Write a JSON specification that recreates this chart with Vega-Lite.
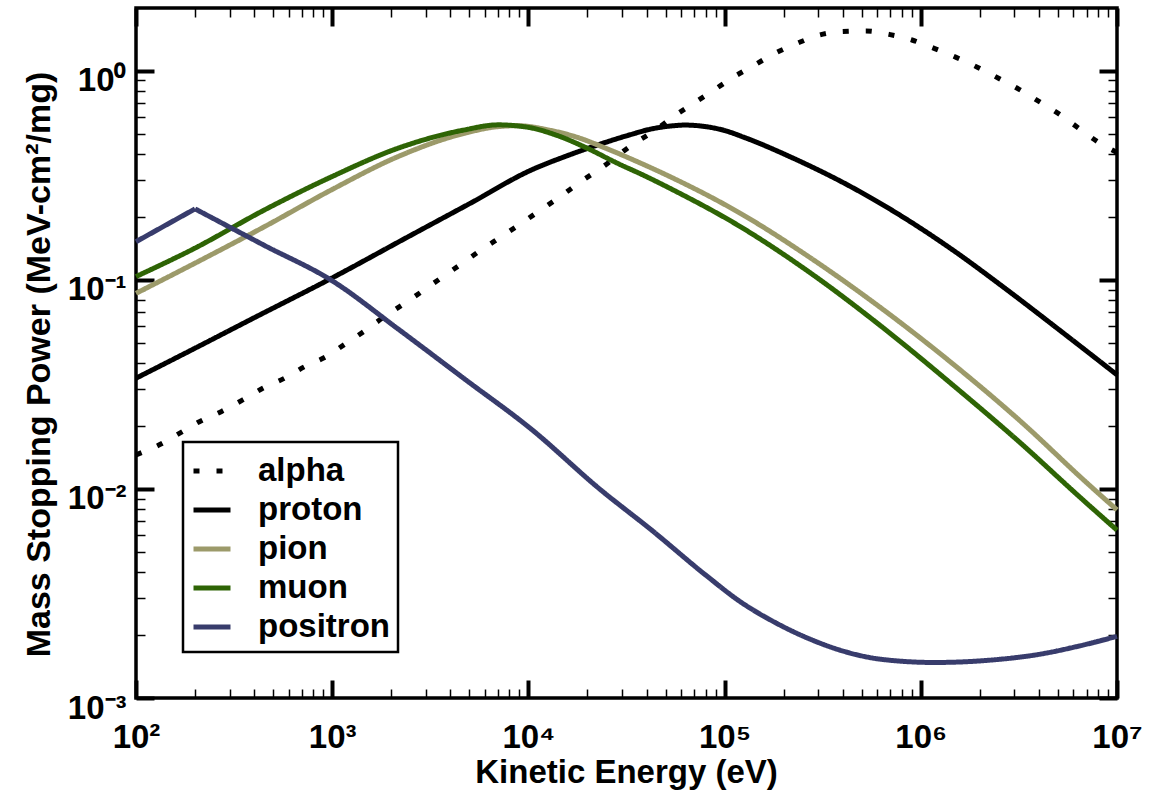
{
  "$schema": "https://vega.github.io/schema/vega-lite/v6.json",
  "width": 981,
  "height": 690,
  "autosize": {"type": "none"},
  "padding": {"left": 136, "top": 8, "right": 36, "bottom": 93},
  "background": "white",
  "data": {"values": [
    {"particle": "alpha", "seg": "a", "E": 100, "S": 0.01456},
    {"particle": "alpha", "seg": "a", "E": 131.5, "S": 0.01626},
    {"particle": "alpha", "seg": "a", "E": 166.3, "S": 0.01845},
    {"particle": "alpha", "seg": "a", "E": 210.4, "S": 0.02099},
    {"particle": "alpha", "seg": "a", "E": 271.6, "S": 0.02344},
    {"particle": "alpha", "seg": "a", "E": 349.9, "S": 0.02667},
    {"particle": "alpha", "seg": "a", "E": 442.6, "S": 0.03034},
    {"particle": "alpha", "seg": "a", "E": 571.5, "S": 0.03388},
    {"particle": "alpha", "seg": "a", "E": 722.8, "S": 0.03846},
    {"particle": "alpha", "seg": "a", "E": 931.1, "S": 0.04295},
    {"particle": "alpha", "seg": "a", "E": 1178, "S": 0.04977},
    {"particle": "alpha", "seg": "a", "E": 1489, "S": 0.05768},
    {"particle": "alpha", "seg": "a", "E": 1849, "S": 0.06683},
    {"particle": "alpha", "seg": "a", "E": 2339, "S": 0.07727},
    {"particle": "alpha", "seg": "a", "E": 2938, "S": 0.08954},
    {"particle": "alpha", "seg": "a", "E": 3673, "S": 0.1038},
    {"particle": "alpha", "seg": "a", "E": 4603, "S": 0.1202},
    {"particle": "alpha", "seg": "a", "E": 5754, "S": 0.1393},
    {"particle": "alpha", "seg": "a", "E": 7278, "S": 0.1611},
    {"particle": "alpha", "seg": "a", "E": 9204, "S": 0.1866},
    {"particle": "alpha", "seg": "a", "E": 11560, "S": 0.2163},
    {"particle": "alpha", "seg": "a", "E": 14550, "S": 0.2506},
    {"particle": "alpha", "seg": "a", "E": 18280, "S": 0.2931},
    {"particle": "alpha", "seg": "a", "E": 23120, "S": 0.3396},
    {"particle": "alpha", "seg": "a", "E": 34750, "S": 0.4508},
    {"particle": "alpha", "seg": "a", "E": 44570, "S": 0.5224},
    {"particle": "alpha", "seg": "a", "E": 55460, "S": 0.6095},
    {"particle": "alpha", "seg": "a", "E": 70310, "S": 0.7047},
    {"particle": "alpha", "seg": "a", "E": 88310, "S": 0.811},
    {"particle": "alpha", "seg": "a", "E": 110900, "S": 0.9333},
    {"particle": "alpha", "seg": "a", "E": 141300, "S": 1.064},
    {"particle": "alpha", "seg": "a", "E": 181100, "S": 1.216},
    {"particle": "alpha", "seg": "a", "E": 233900, "S": 1.355},
    {"particle": "alpha", "seg": "a", "E": 302700, "S": 1.483},
    {"particle": "alpha", "seg": "a", "E": 398100, "S": 1.542},
    {"particle": "alpha", "seg": "a", "E": 526000, "S": 1.552},
    {"particle": "alpha", "seg": "a", "E": 688700, "S": 1.496},
    {"particle": "alpha", "seg": "a", "E": 901600, "S": 1.406},
    {"particle": "alpha", "seg": "a", "E": 1169000, "S": 1.282},
    {"particle": "alpha", "seg": "a", "E": 1514000, "S": 1.161},
    {"particle": "alpha", "seg": "a", "E": 1941000, "S": 1.042},
    {"particle": "alpha", "seg": "a", "E": 2489000, "S": 0.9226},
    {"particle": "alpha", "seg": "a", "E": 3170000, "S": 0.8166},
    {"particle": "alpha", "seg": "a", "E": 4018000, "S": 0.7129},
    {"particle": "alpha", "seg": "a", "E": 5082000, "S": 0.6209},
    {"particle": "alpha", "seg": "a", "E": 6383000, "S": 0.5321},
    {"particle": "alpha", "seg": "a", "E": 8035000, "S": 0.456},
    {"particle": "alpha", "seg": "a", "E": 10000000, "S": 0.4074},

    {"particle": "proton", "seg": "a", "E": 100, "S": 0.03388},
    {"particle": "proton", "seg": "a", "E": 199.5, "S": 0.0471},
    {"particle": "proton", "seg": "a", "E": 398.1, "S": 0.06577},
    {"particle": "proton", "seg": "a", "E": 1000, "S": 0.1023},
    {"particle": "proton", "seg": "a", "E": 2432, "S": 0.1607},
    {"particle": "proton", "seg": "a", "E": 5012, "S": 0.2317},
    {"particle": "proton", "seg": "a", "E": 10350, "S": 0.3357},
    {"particle": "proton", "seg": "a", "E": 15850, "S": 0.3936},
    {"particle": "proton", "seg": "a", "E": 22910, "S": 0.4446},
    {"particle": "proton", "seg": "a", "E": 33110, "S": 0.4955},
    {"particle": "proton", "seg": "a", "E": 41690, "S": 0.526},
    {"particle": "proton", "seg": "a", "E": 52480, "S": 0.5445},
    {"particle": "proton", "seg": "a", "E": 63100, "S": 0.5508},
    {"particle": "proton", "seg": "a", "E": 79430, "S": 0.542},
    {"particle": "proton", "seg": "a", "E": 100000, "S": 0.5188},
    {"particle": "proton", "seg": "a", "E": 125900, "S": 0.4808},
    {"particle": "proton", "seg": "a", "E": 224400, "S": 0.3819},
    {"particle": "proton", "seg": "a", "E": 418800, "S": 0.2864},
    {"particle": "proton", "seg": "a", "E": 779800, "S": 0.2046},
    {"particle": "proton", "seg": "a", "E": 1452000, "S": 0.1393},
    {"particle": "proton", "seg": "a", "E": 2704000, "S": 0.09078},
    {"particle": "proton", "seg": "a", "E": 5047000, "S": 0.05794},
    {"particle": "proton", "seg": "a", "E": 10000000, "S": 0.03516},

    {"particle": "pion", "seg": "a", "E": 100, "S": 0.0863},
    {"particle": "pion", "seg": "a", "E": 199.5, "S": 0.1202},
    {"particle": "pion", "seg": "a", "E": 451.9, "S": 0.1799},
    {"particle": "pion", "seg": "a", "E": 1000, "S": 0.271},
    {"particle": "pion", "seg": "a", "E": 2163, "S": 0.389},
    {"particle": "pion", "seg": "a", "E": 4732, "S": 0.5035},
    {"particle": "pion", "seg": "a", "E": 7079, "S": 0.542},
    {"particle": "pion", "seg": "a", "E": 8913, "S": 0.547},
    {"particle": "pion", "seg": "a", "E": 12590, "S": 0.5224},
    {"particle": "pion", "seg": "a", "E": 17780, "S": 0.4808},
    {"particle": "pion", "seg": "a", "E": 25120, "S": 0.4246},
    {"particle": "pion", "seg": "a", "E": 35480, "S": 0.3698},
    {"particle": "pion", "seg": "a", "E": 52480, "S": 0.3126},
    {"particle": "pion", "seg": "a", "E": 120200, "S": 0.2084},
    {"particle": "pion", "seg": "a", "E": 275400, "S": 0.1271},
    {"particle": "pion", "seg": "a", "E": 631000, "S": 0.07311},
    {"particle": "pion", "seg": "a", "E": 1445000, "S": 0.0399},
    {"particle": "pion", "seg": "a", "E": 3311000, "S": 0.02061},
    {"particle": "pion", "seg": "a", "E": 6761000, "S": 0.01104},
    {"particle": "pion", "seg": "a", "E": 10000000, "S": 0.007943},

    {"particle": "muon", "seg": "a", "E": 100, "S": 0.1038},
    {"particle": "muon", "seg": "a", "E": 199.5, "S": 0.1419},
    {"particle": "muon", "seg": "a", "E": 451.9, "S": 0.2163},
    {"particle": "muon", "seg": "a", "E": 1000, "S": 0.3126},
    {"particle": "muon", "seg": "a", "E": 2163, "S": 0.4266},
    {"particle": "muon", "seg": "a", "E": 4732, "S": 0.5224},
    {"particle": "muon", "seg": "a", "E": 7000, "S": 0.5521},
    {"particle": "muon", "seg": "a", "E": 10000, "S": 0.537},
    {"particle": "muon", "seg": "a", "E": 14130, "S": 0.4898},
    {"particle": "muon", "seg": "a", "E": 19950, "S": 0.4266},
    {"particle": "muon", "seg": "a", "E": 28180, "S": 0.3631},
    {"particle": "muon", "seg": "a", "E": 39810, "S": 0.3126},
    {"particle": "muon", "seg": "a", "E": 52480, "S": 0.2748},
    {"particle": "muon", "seg": "a", "E": 120200, "S": 0.1799},
    {"particle": "muon", "seg": "a", "E": 275400, "S": 0.1076},
    {"particle": "muon", "seg": "a", "E": 631000, "S": 0.05984},
    {"particle": "muon", "seg": "a", "E": 1445000, "S": 0.03162},
    {"particle": "muon", "seg": "a", "E": 3311000, "S": 0.01622},
    {"particle": "muon", "seg": "a", "E": 6310000, "S": 0.009333},
    {"particle": "muon", "seg": "a", "E": 10000000, "S": 0.006353},

    {"particle": "positron", "seg": "a", "E": 100, "S": 0.1524},
    {"particle": "positron", "seg": "a", "E": 200, "S": 0.2188},
    {"particle": "positron", "seg": "b", "E": 200, "S": 0.2188},
    {"particle": "positron", "seg": "b", "E": 451.9, "S": 0.1462},
    {"particle": "positron", "seg": "b", "E": 1000, "S": 0.0991},
    {"particle": "positron", "seg": "b", "E": 2163, "S": 0.05834},
    {"particle": "positron", "seg": "b", "E": 4732, "S": 0.03357},
    {"particle": "positron", "seg": "b", "E": 10350, "S": 0.01932},
    {"particle": "positron", "seg": "b", "E": 23070, "S": 0.01},
    {"particle": "positron", "seg": "b", "E": 42850, "S": 0.00631},
    {"particle": "positron", "seg": "b", "E": 79620, "S": 0.00389},
    {"particle": "positron", "seg": "b", "E": 120500, "S": 0.002884},
    {"particle": "positron", "seg": "b", "E": 182000, "S": 0.002291},
    {"particle": "positron", "seg": "b", "E": 275400, "S": 0.001905},
    {"particle": "positron", "seg": "b", "E": 416900, "S": 0.00166},
    {"particle": "positron", "seg": "b", "E": 631000, "S": 0.001531},
    {"particle": "positron", "seg": "b", "E": 1175000, "S": 0.001479},
    {"particle": "positron", "seg": "b", "E": 2188000, "S": 0.001514},
    {"particle": "positron", "seg": "b", "E": 4074000, "S": 0.001622},
    {"particle": "positron", "seg": "b", "E": 6166000, "S": 0.001758},
    {"particle": "positron", "seg": "b", "E": 10000000, "S": 0.001972}
  ]},
  "layer": [
    {
      "mark": {"type": "line", "interpolate": "monotone", "strokeWidth": 5, "strokeCap": "butt"},
      "encoding": {
        "x": {"field": "E", "type": "quantitative",
          "scale": {"type": "log", "domain": [100, 10000000], "nice": false},
          "axis": {"orient": "bottom", "values": [100, 1000, 10000, 100000, 1000000, 10000000],
            "labelExpr": "'10' + ['⁻³','⁻²','⁻¹','⁰','¹','²','³','⁴','⁵','⁶','⁷'][round(log(datum.value)/LN10)+3]",
            "tickSize": -18, "tickWidth": 4, "tickColor": "black",
            "labelPadding": 67, "labelBaseline": "alphabetic", "labelFontSize": 33,
            "domain": false, "grid": false,
            "title": "Kinetic Energy (eV)", "titleX": 490, "titleY": 84,
            "titleBaseline": "alphabetic", "titleAlign": "center"}},
        "y": {"field": "S", "type": "quantitative",
          "scale": {"type": "log", "domain": [0.001, 2], "nice": false},
          "axis": {"orient": "left", "values": [0.001, 0.01, 0.1, 1],
            "labelExpr": "'10' + ['⁻³','⁻²','⁻¹','⁰','¹','²','³','⁴','⁵','⁶','⁷'][round(log(datum.value)/LN10)+3]",
            "tickSize": -18, "tickWidth": 4, "tickColor": "black",
            "labelPadding": 28, "labelAlign": "right", "labelBaseline": "alphabetic", "labelOffset": 20,
            "labelFontSize": 33,
            "domain": false, "grid": false,
            "title": "Mass Stopping Power (MeV-cm²/mg)", "titleX": -87, "titleY": 356,
            "titleAngle": -90, "titleBaseline": "alphabetic", "titleAlign": "center", "titleFontSize": 34}},
        "detail": {"field": "seg", "type": "nominal"},
        "color": {"field": "particle", "type": "nominal",
          "scale": {"domain": ["alpha", "proton", "pion", "muon", "positron"],
                    "range": ["#000000", "#000000", "#9c9a6a", "#2e6405", "#383c6c"]},
          "legend": {"title": null}},
        "strokeDash": {"field": "particle", "type": "nominal",
          "scale": {"domain": ["alpha", "proton", "pion", "muon", "positron"],
                    "range": [[6, 17], [1, 0], [1, 0], [1, 0], [1, 0]]},
          "legend": {"title": null}}
      }
    },
    {
      "mark": {"type": "point", "opacity": 0},
      "encoding": {
        "x": {"field": "E", "type": "quantitative",
          "axis": {"orient": "bottom",
            "values": [200,300,400,500,600,700,800,900,2000,3000,4000,5000,6000,7000,8000,9000,20000,30000,40000,50000,60000,70000,80000,90000,200000,300000,400000,500000,600000,700000,800000,900000,2000000,3000000,4000000,5000000,6000000,7000000,8000000,9000000],
            "tickSize": -9, "tickWidth": 1.5, "tickColor": "black", "labels": false,
            "domain": false, "grid": false, "title": null}},
        "y": {"field": "S", "type": "quantitative",
          "axis": {"orient": "left",
            "values": [0.002,0.003,0.004,0.005,0.006,0.007,0.008,0.009,0.02,0.03,0.04,0.05,0.06,0.07,0.08,0.09,0.2,0.3,0.4,0.5,0.6,0.7,0.8,0.9],
            "tickSize": -9, "tickWidth": 1.5, "tickColor": "black", "labels": false,
            "domain": false, "grid": false, "title": null}}
      }
    },
    {
      "mark": {"type": "point", "opacity": 0},
      "encoding": {
        "x": {"field": "E", "type": "quantitative",
          "axis": {"orient": "top", "values": [100, 1000, 10000, 100000, 1000000, 10000000],
            "tickSize": -18, "tickWidth": 4, "tickColor": "black", "labels": false,
            "domain": false, "grid": false, "title": null}},
        "y": {"field": "S", "type": "quantitative",
          "axis": {"orient": "right", "values": [0.001, 0.01, 0.1, 1],
            "tickSize": -18, "tickWidth": 4, "tickColor": "black", "labels": false,
            "domain": false, "grid": false, "title": null}}
      }
    },
    {
      "mark": {"type": "point", "opacity": 0},
      "encoding": {
        "x": {"field": "E", "type": "quantitative",
          "axis": {"orient": "top",
            "values": [200,300,400,500,600,700,800,900,2000,3000,4000,5000,6000,7000,8000,9000,20000,30000,40000,50000,60000,70000,80000,90000,200000,300000,400000,500000,600000,700000,800000,900000,2000000,3000000,4000000,5000000,6000000,7000000,8000000,9000000],
            "tickSize": -9, "tickWidth": 1.5, "tickColor": "black", "labels": false,
            "domain": false, "grid": false, "title": null}},
        "y": {"field": "S", "type": "quantitative",
          "axis": {"orient": "right",
            "values": [0.002,0.003,0.004,0.005,0.006,0.007,0.008,0.009,0.02,0.03,0.04,0.05,0.06,0.07,0.08,0.09,0.2,0.3,0.4,0.5,0.6,0.7,0.8,0.9],
            "tickSize": -9, "tickWidth": 1.5, "tickColor": "black", "labels": false,
            "domain": false, "grid": false, "title": null}}
      }
    }
  ],
  "resolve": {"axis": {"x": "independent", "y": "independent"}},
  "config": {
    "font": "Liberation Sans",
    "view": {"stroke": "black", "strokeWidth": 3.5},
    "axis": {
      "labelFontWeight": "bold", "labelColor": "black", "labelFlush": false, "labelOverlap": false,
      "titleFontWeight": "bold", "titleColor": "black", "titleFontSize": 33
    },
    "legend": {
      "orient": "none", "legendX": 47, "legendY": 434,
      "symbolType": "stroke", "symbolSize": 1369, "symbolStrokeWidth": 5,
      "labelFontSize": 33, "labelFontWeight": "bold", "labelColor": "black", "labelLimit": 300,
      "labelOffset": 25, "padding": 8, "rowPadding": 1,
      "strokeColor": "black", "strokeWidth": 2.5, "fillColor": "white"
    }
  }
}
